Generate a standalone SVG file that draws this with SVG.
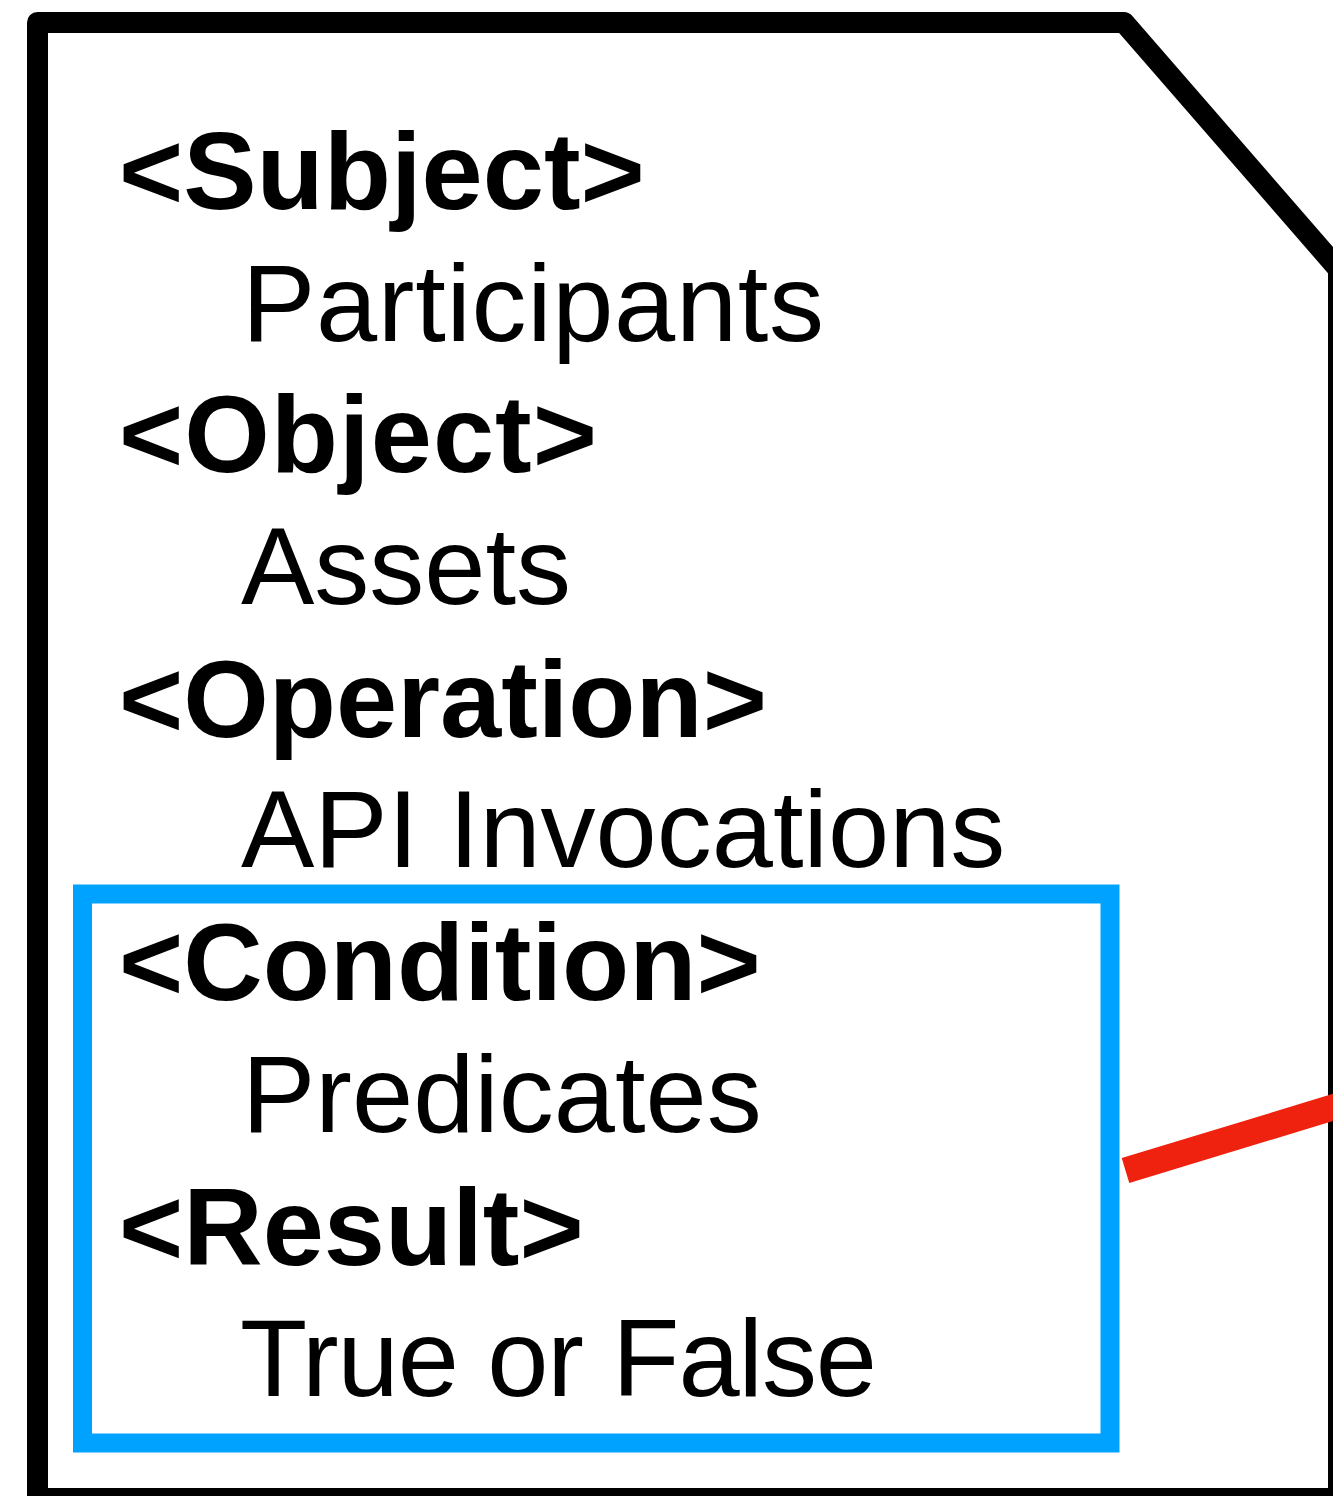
<svg xmlns="http://www.w3.org/2000/svg" width="1333" height="1496" viewBox="0 0 1333 1496">
<style>
.b{font-family:"Liberation Sans",Helvetica,Arial,sans-serif;font-weight:bold;font-size:110px;fill:#000}
.r{font-family:"Liberation Sans",Helvetica,Arial,sans-serif;font-size:110px;fill:#000}
</style>
<rect x="0" y="0" width="1333" height="1496" fill="#fff"/>
<g id="document">
<path d="M37.5,22.5 H1124 L1338.5,269.3 V1498.5 H37.5 Z" fill="#fff" stroke="#000" stroke-width="21" stroke-linejoin="round"/>
<text class="b" x="119" y="209">&lt;Subject&gt;</text>
<text class="r" x="242" y="341" textLength="582">Participants</text>
<text class="b" x="119" y="472" textLength="478">&lt;Object&gt;</text>
<text class="r" x="241" y="604">Assets</text>
<text class="b" x="119" y="737">&lt;Operation&gt;</text>
<text class="r" x="241" y="867">API Invocations</text>
</g>
<g id="condition-box">
<rect x="82.5" y="894" width="1027.5" height="549" fill="none" stroke="#00A2FF" stroke-width="19"/>
<text class="b" x="119" y="1000">&lt;Condition&gt;</text>
<text class="r" x="242" y="1132">Predicates</text>
<text class="b" x="119" y="1265">&lt;Result&gt;</text>
<text class="r" x="240" y="1396" textLength="637">True or False</text>
</g>
<g id="connectors">
<line x1="1125.5" y1="1170.5" x2="1345" y2="1103.8" stroke="#EE220E" stroke-width="26"/>
</g>
</svg>
